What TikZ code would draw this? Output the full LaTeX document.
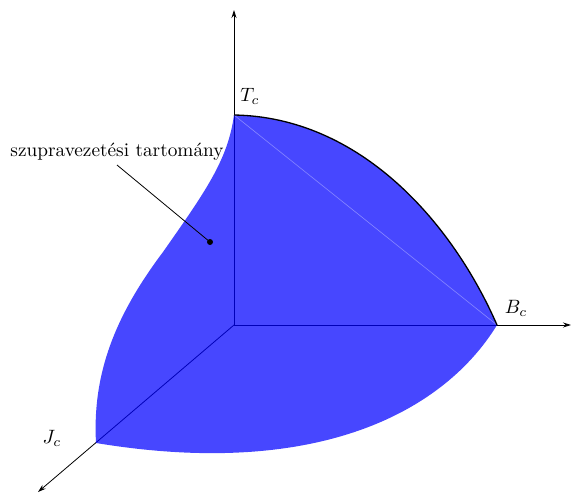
\documentclass[tikz,border=0pt]{standalone}
\usetikzlibrary{arrows.meta}
\newcommand{\bigtxt}[1]{\scalebox{1.93}{\fontsize{10}{12}\selectfont #1}}
\begin{document}
\begin{tikzpicture}[x=1pt,y=-1pt,
  axis/.style={line width=0.8pt,-{Stealth[length=8pt,width=5pt]}},
  lbl/.style={inner sep=0pt},
  surf/.style={fill=blue,fill opacity=0.72}]
\useasboundingbox (0,0) rectangle (571,493);
\coordinate (O) at (234,325);
\coordinate (T) at (234,115);
\coordinate (B) at (497,325);
\coordinate (J) at (96,443);
\coordinate (M) at (163,252);
\coordinate (zend) at (234,10);
\coordinate (xend) at (571,325);
\coordinate (yend) at (38,492);
\draw[axis] (O) -- (zend);
\draw[axis] (O) -- (xend);
\draw[axis] (O) -- (yend);
\fill[surf] (T) .. controls (360,117) and (452,222) .. (B)
  .. controls (445,410) and (320,480) .. (J)
  .. controls (92,370) and (118,312) .. (M)
  .. controls (205,192) and (228,160) .. (T) -- cycle;
\draw[white,opacity=0.35,line width=0.6pt] (T) -- (B);
\draw[line width=1.3pt] (T) .. controls (360,117) and (452,222) .. (B);
\node[lbl] (tl) at (250,96) {\bigtxt{$T_c$}};
\node[lbl] (bl) at (516,308) {\bigtxt{$B_c$}};
\node[lbl] (jl) at (52,438) {\bigtxt{$J_c$}};
\node[lbl] (sz) at (117,152) {\bigtxt{szupravezetési tartomány}};
\coordinate (d) at (210,242);
\fill (d) circle (3);
\draw[line width=0.8pt] (117,165) coordinate (s0) (s0) -- (d);
\end{tikzpicture}
\end{document}
